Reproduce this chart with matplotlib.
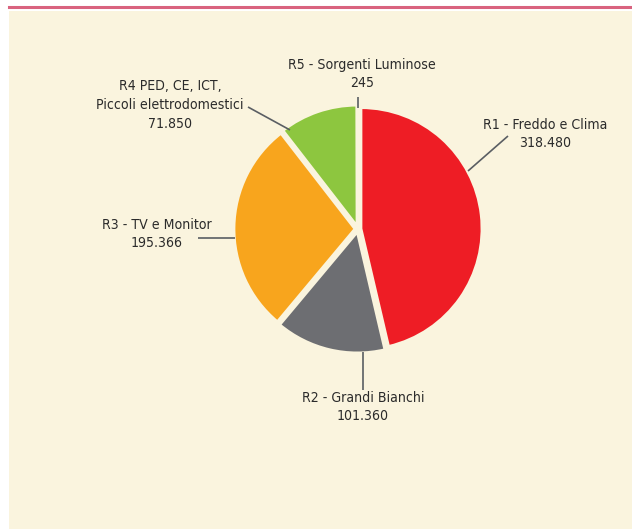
import matplotlib
matplotlib.use("Agg")
import matplotlib.pyplot as plt
from matplotlib.patches import Rectangle
from matplotlib.lines import Line2D
from matplotlib import font_manager as fm

# Data
categories = ["R1 - Freddo e Clima", "R2 - Grandi Bianchi", "R3 - TV e Monitor",
              "R4 PED, CE, ICT,\nPiccoli elettrodomestici", "R5 - Sorgenti Luminose"]
values = [318480, 101360, 195366, 71850, 245]
value_labels = ["318.480", "101.360", "195.366", "71.850", "245"]
colors = ["#EE1D25", "#6D6E72", "#F8A51D", "#8DC63F", "#2E3192"]


def pick_font():
    try:
        p = fm.findfont(fm.FontProperties(family="Liberation Sans Narrow"),
                        fallback_to_default=False)
        if "narrow" in p.lower():
            return p, 11.0
    except Exception:
        pass
    try:
        p = fm.findfont(fm.FontProperties(family="DejaVu Sans", stretch="condensed"),
                        fallback_to_default=False)
        if "condensed" in p.lower():
            return p, 10.1
    except Exception:
        pass
    try:
        p = fm.findfont(fm.FontProperties(family="Roboto"), fallback_to_default=False)
        return p, 10.5
    except Exception:
        return None, 10


font_path, font_size = pick_font()
if font_path:
    fprop = fm.FontProperties(fname=font_path, size=font_size)
else:
    fprop = fm.FontProperties(family="DejaVu Sans", size=font_size)

W, H = 632, 529
BG = "#FAF4DE"
fig = plt.figure(figsize=(W / 100, H / 100), dpi=100)
fig.patch.set_facecolor("white")
fig.patches.append(Rectangle((9 / W, 0), 1, (H - 11) / H, transform=fig.transFigure,
                             facecolor=BG, edgecolor="none", zorder=-5))
fig.lines.append(Line2D([9 / W, 1], [(H - 7) / H, (H - 7) / H], transform=fig.transFigure,
                        color="#D9637F", lw=2.2, zorder=-5))

ax = fig.add_axes([0, 0, 1, 1])
ax.set_zorder(5)

cx, cy = 358, H - 229
ax.pie(values, colors=colors, startangle=90, counterclock=False,
       center=(cx, cy), radius=121, explode=[3, 3, 3, 3, 3],
       wedgeprops=dict(edgecolor=BG, linewidth=2))
ax.set_xlim(0, W)
ax.set_ylim(0, H)
ax.set_aspect("equal")
ax.axis("off")

# label positions (pixels from top-left) and leader lines
label_pos = [(545, 134), (363, 407), (157, 234), (170, 105), (362, 74)]
leaders = [((508, 136), (468, 171)),
           ((363, 390), (363, 352)),
           ((198, 238), (235, 238)),
           ((248, 107), (290, 130)),
           ((358, 97), (358, 108))]

for cat, vl, (px, py), ((x1, y1), (x2, y2)) in zip(categories, value_labels, label_pos, leaders):
    ax.text(px, H - py, cat + "\n" + vl, ha="center", va="center",
            linespacing=1.42, fontproperties=fprop, color="#2B2B2B")
    ax.plot([x1, x2], [H - y1, H - y2], color="#5A5E63", lw=1.2, solid_capstyle="butt")

fig.savefig("out.png", dpi=100, facecolor=fig.get_facecolor())
